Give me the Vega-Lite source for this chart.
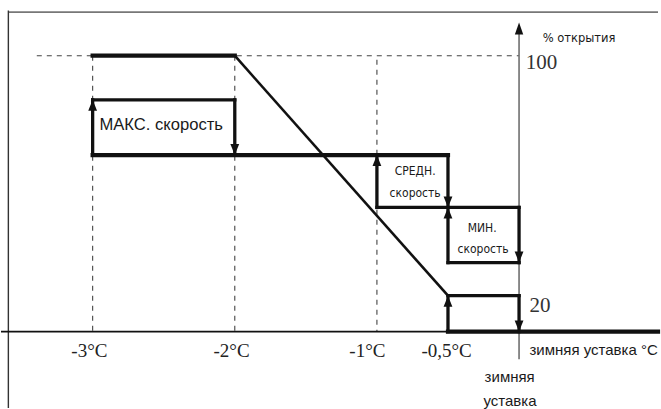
{
  "$schema": "https://vega.github.io/schema/vega-lite/v6.json",
  "width": 661,
  "height": 409,
  "autosize": {"type": "fit", "contains": "padding"},
  "padding": 0,
  "background": "white",
  "config": {"view": {"stroke": null}},
  "encoding": {
    "x": {"type": "quantitative", "scale": {"domain": [-3.6448, 0.9776], "nice": false, "zero": false}, "axis": null},
    "y": {"type": "quantitative", "scale": {"domain": [-27.7, 120.2], "nice": false, "zero": false}, "axis": null}
  },
  "layer": [
    {
      "data": {"values": [
        {"x": -3.593, "x2": 0.9776, "y": 115.8, "y2": 115.8}
      ]},
      "mark": {"type": "rule", "color": "#777777", "strokeWidth": 1.6},
      "encoding": {"x": {"field": "x"}, "x2": {"field": "x2"}, "y": {"field": "y"}, "y2": {"field": "y2"}}
    },
    {
      "data": {"values": [
        {"x": -3.593, "x2": -3.593, "y": 116.4, "y2": -27.7}
      ]},
      "mark": {"type": "rule", "color": "#333333", "strokeWidth": 1.4},
      "encoding": {"x": {"field": "x"}, "x2": {"field": "x2"}, "y": {"field": "y"}, "y2": {"field": "y2"}}
    },
    {
      "data": {"values": [
        {"x": -3.393, "x2": 0, "y": 100, "y2": 100},
        {"x": -3, "x2": -3, "y": 100, "y2": 0},
        {"x": -2, "x2": -2, "y": 100, "y2": 0},
        {"x": -1, "x2": -1, "y": 98.5, "y2": 0}
      ]},
      "mark": {"type": "rule", "color": "#444444", "strokeWidth": 1.1, "strokeDash": [5, 5]},
      "encoding": {"x": {"field": "x"}, "x2": {"field": "x2"}, "y": {"field": "y"}, "y2": {"field": "y2"}}
    },
    {
      "data": {"values": [
        {"x": 0, "x2": 0, "y": -10, "y2": 108}
      ]},
      "mark": {"type": "rule", "color": "#707070", "strokeWidth": 1.6},
      "encoding": {"x": {"field": "x"}, "x2": {"field": "x2"}, "y": {"field": "y"}, "y2": {"field": "y2"}}
    },
    {
      "data": {"values": [
        {"x": -3.6448, "x2": -0.5, "y": 0, "y2": 0}
      ]},
      "mark": {"type": "rule", "color": "#111111", "strokeWidth": 1.6},
      "encoding": {"x": {"field": "x"}, "x2": {"field": "x2"}, "y": {"field": "y"}, "y2": {"field": "y2"}}
    },
    {
      "data": {"values": [
        {"x": -2, "x2": -0.5, "y": 100, "y2": 13}
      ]},
      "mark": {"type": "rule", "color": "#111111", "strokeWidth": 2.6},
      "encoding": {"x": {"field": "x"}, "x2": {"field": "x2"}, "y": {"field": "y"}, "y2": {"field": "y2"}}
    },
    {
      "data": {"values": [
        {"x": -3, "x2": -2, "y": 100, "y2": 100},
        {"x": -3, "x2": -0.5, "y": 64, "y2": 64},
        {"x": -0.5, "x2": 0.9776, "y": 0, "y2": 0}
      ]},
      "mark": {"type": "rule", "color": "#111111", "strokeWidth": 4.2, "strokeCap": "square"},
      "encoding": {"x": {"field": "x"}, "x2": {"field": "x2"}, "y": {"field": "y"}, "y2": {"field": "y2"}}
    },
    {
      "data": {"values": [
        {"x": -3, "x2": -2, "y": 84, "y2": 84},
        {"x": -3, "x2": -3, "y": 64, "y2": 84},
        {"x": -2, "x2": -2, "y": 84, "y2": 64},
        {"x": -1, "x2": -1, "y": 45, "y2": 64},
        {"x": -0.5, "x2": -0.5, "y": 64, "y2": 45},
        {"x": -1, "x2": 0, "y": 45, "y2": 45},
        {"x": -0.5, "x2": -0.5, "y": 25, "y2": 45},
        {"x": 0, "x2": 0, "y": 45, "y2": 25},
        {"x": -0.5, "x2": 0, "y": 25, "y2": 25},
        {"x": -0.5, "x2": 0, "y": 13, "y2": 13},
        {"x": -0.5, "x2": -0.5, "y": 0, "y2": 13},
        {"x": 0, "x2": 0, "y": 13, "y2": 0}
      ]},
      "mark": {"type": "rule", "color": "#111111", "strokeWidth": 3.3, "strokeCap": "square"},
      "encoding": {"x": {"field": "x"}, "x2": {"field": "x2"}, "y": {"field": "y"}, "y2": {"field": "y2"}}
    },
    {
      "data": {"values": [
        {"x": -3, "y": 84},
        {"x": -1, "y": 64},
        {"x": -0.5, "y": 45},
        {"x": -0.5, "y": 13}
      ]},
      "mark": {"type": "point", "shape": "M0,0L-0.8,2L0.8,2Z", "size": 121, "filled": true, "color": "#111111", "opacity": 1, "strokeWidth": 0},
      "encoding": {"x": {"field": "x"}, "y": {"field": "y"}}
    },
    {
      "data": {"values": [
        {"x": -2, "y": 64},
        {"x": -0.5, "y": 45},
        {"x": 0, "y": 25},
        {"x": 0, "y": 0}
      ]},
      "mark": {"type": "point", "shape": "M0,0L-0.8,-2L0.8,-2Z", "size": 121, "filled": true, "color": "#111111", "opacity": 1, "strokeWidth": 0},
      "encoding": {"x": {"field": "x"}, "y": {"field": "y"}}
    },
    {
      "data": {"values": [
        {"x": 0, "y": 112.0}
      ]},
      "mark": {"type": "point", "shape": "M0,0L-0.7,2L0.7,2Z", "size": 144, "filled": true, "color": "#111111", "opacity": 1, "strokeWidth": 0},
      "encoding": {"x": {"field": "x"}, "y": {"field": "y"}}
    },
    {
      "data": {"values": [
        {"label": "-3°C", "x": -3.023, "y": -6.98},
        {"label": "-2°C", "x": -2.023, "y": -6.98},
        {"label": "-1°C", "x": -1.067, "y": -6.98},
        {"label": "-0,5°C", "x": -0.51, "y": -6.98}
      ]},
      "mark": {"type": "text", "font": "Liberation Serif", "fontSize": 19, "color": "#222222", "align": "center", "baseline": "middle"},
      "encoding": {"x": {"field": "x"}, "y": {"field": "y"}, "text": {"field": "label"}}
    },
    {
      "data": {"values": [
        {"label": "100", "x": 0.048, "y": 97.4},
        {"label": "20", "x": 0.073, "y": 9.3}
      ]},
      "mark": {"type": "text", "font": "Liberation Serif", "fontSize": 21, "color": "#333333", "align": "left", "baseline": "middle"},
      "encoding": {"x": {"field": "x"}, "y": {"field": "y"}, "text": {"field": "label"}}
    },
    {
      "data": {"values": [
        {"label": "МАКС. скорость", "x": -2.952, "y": 75.0}
      ]},
      "mark": {"type": "text", "font": "Liberation Sans", "fontSize": 16.6, "color": "#1a1a1a", "align": "left", "baseline": "middle"},
      "encoding": {"x": {"field": "x"}, "y": {"field": "y"}, "text": {"field": "label"}}
    },
    {
      "data": {"values": [
        {"label": "СРЕДН.", "x": -0.731, "y": 58.1},
        {"label": "скорость", "x": -0.731, "y": 50.3},
        {"label": "МИН.", "x": -0.26, "y": 37.6},
        {"label": "скорость", "x": -0.253, "y": 30.1}
      ]},
      "mark": {"type": "text", "font": "DejaVu Sans Condensed", "fontSize": 12, "color": "#1a1a1a", "align": "center", "baseline": "middle"},
      "encoding": {"x": {"field": "x"}, "y": {"field": "y"}, "text": {"field": "label"}}
    },
    {
      "data": {"values": [
        {"label": "% открытия", "x": 0.166, "y": 106.4}
      ]},
      "mark": {"type": "text", "font": "DejaVu Sans Condensed", "fontSize": 12.8, "color": "#1a1a1a", "align": "left", "baseline": "middle"},
      "encoding": {"x": {"field": "x"}, "y": {"field": "y"}, "text": {"field": "label"}}
    },
    {
      "data": {"values": [
        {"label": "зимняя уставка °C", "x": 0.073, "y": -6.65}
      ]},
      "mark": {"type": "text", "font": "Liberation Sans", "fontSize": 15, "color": "#1a1a1a", "align": "left", "baseline": "middle"},
      "encoding": {"x": {"field": "x"}, "y": {"field": "y"}, "text": {"field": "label"}}
    },
    {
      "data": {"values": [
        {"label": "зимняя", "x": -0.066, "y": -16.6},
        {"label": "уставка", "x": -0.064, "y": -25.1}
      ]},
      "mark": {"type": "text", "font": "Liberation Sans", "fontSize": 15, "color": "#1a1a1a", "align": "center", "baseline": "middle"},
      "encoding": {"x": {"field": "x"}, "y": {"field": "y"}, "text": {"field": "label"}}
    }
  ]
}
